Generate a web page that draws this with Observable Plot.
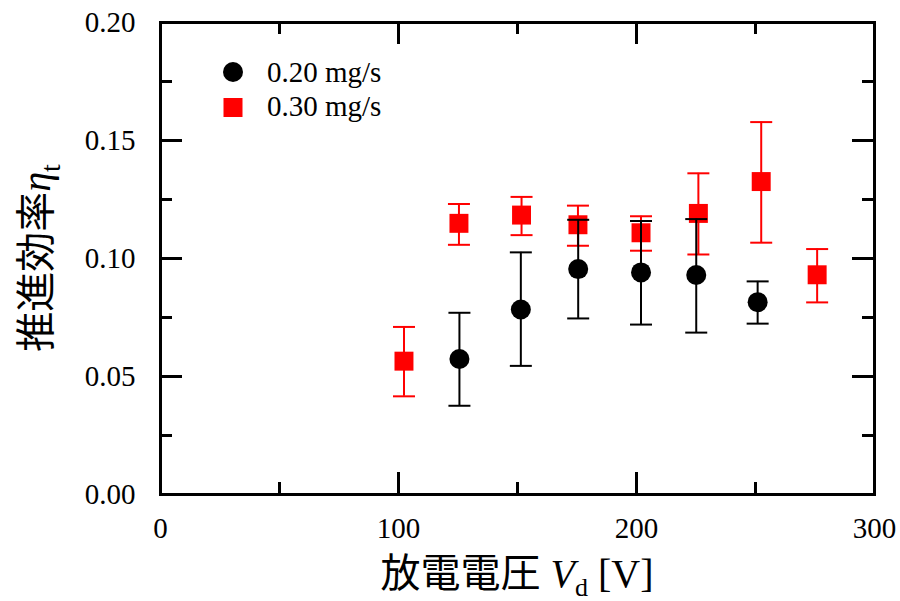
<!DOCTYPE html>
<html><head><meta charset="utf-8">
<script src="https://cdn.jsdelivr.net/npm/d3@7"></script>
<script src="https://cdn.jsdelivr.net/npm/@observablehq/plot@0.6"></script>
<style>body{margin:0;background:#fff}</style>
</head><body><div id="chart"></div>
<script>
// Series labels
const seriesNames = ["0.20 mg/s", "0.30 mg/s"];
// 0.20 mg/s (black circles)
const vd020  = [125.6, 151.4, 175.5, 201.9, 225.1, 250.9];
const eta020 = [0.0574, 0.0784, 0.0955, 0.0941, 0.0930, 0.0815];
const hi020  = [0.0770, 0.1026, 0.1164, 0.1159, 0.1167, 0.0903];
const lo020  = [0.0376, 0.0545, 0.0746, 0.0720, 0.0686, 0.0724];
// 0.30 mg/s (red squares)
const vd030  = [102.3, 125.4, 151.7, 175.4, 201.9, 226.0, 252.4, 275.9];
const eta030 = [0.0565, 0.1149, 0.1184, 0.1143, 0.1109, 0.1191, 0.1326, 0.0931];
const hi030  = [0.0710, 0.1231, 0.1261, 0.1224, 0.1179, 0.1361, 0.1578, 0.1040];
const lo030  = [0.0416, 0.1058, 0.1099, 0.1054, 0.1033, 0.1017, 0.1067, 0.0814];
// Ticks
const xTickLabels = [0, 100, 200, 300];
const xMajor = [100, 200];
const xMinor = [50, 150, 250];
const yTickLabels = [0, 0.05, 0.10, 0.15, 0.20];
const yMajor = [0.05, 0.10, 0.15];
const yMinor = [0.025, 0.075, 0.125, 0.175];

const d020 = vd020.map((v, i) => ({vd: v, eta: eta020[i], hi: hi020[i], lo: lo020[i]}));
const d030 = vd030.map((v, i) => ({vd: v, eta: eta030[i], hi: hi030[i], lo: lo030[i]}));

const W = 900, H = 601;
const mL = 160, mR = 26, mT = 22, mB = 107;
const fw = W - mL - mR, fh = H - mT - mB;
const majLen = 22, minLen = 12;
const serif = "'Liberation Serif', 'Times New Roman', serif";
const cjk = "'Noto Sans CJK JP', sans-serif";

const cap = {draw(ctx, size) { const r = Math.sqrt(size / Math.PI); ctx.moveTo(-r, 0); ctx.lineTo(r, 0); }};

function errMarks(data, color) {
  return [
    Plot.ruleX(data, {x: "vd", y1: "lo", y2: "hi", stroke: color, strokeWidth: 2}),
    Plot.dot(data, {x: "vd", y: "hi", symbol: cap, r: 11, stroke: color, fill: "none", strokeWidth: 2}),
    Plot.dot(data, {x: "vd", y: "lo", symbol: cap, r: 11, stroke: color, fill: "none", strokeWidth: 2})
  ];
}

const svg = Plot.plot({
  width: W, height: H,
  marginLeft: mL, marginRight: mR, marginTop: mT, marginBottom: mB,
  x: {domain: [0, 300]},
  y: {domain: [0, 0.2]},
  style: {fontFamily: serif, fontSize: "29px", background: "#fff", color: "#000"},
  marks: [
    Plot.axisX({ticks: xTickLabels, tickSize: 0, tickPadding: 23, tickFormat: d => String(d), fontSize: 29, fontFamily: serif, label: null}),
    Plot.axisY({ticks: yTickLabels, tickSize: 0, tickPadding: 25, tickFormat: d3.format(".2f"), fontSize: 29, fontFamily: serif, label: null}),
    // inward ticks: bottom / top
    Plot.ruleX(xMajor, {insetTop: fh - majLen, stroke: "#000", strokeWidth: 3}),
    Plot.ruleX(xMinor, {insetTop: fh - minLen, stroke: "#000", strokeWidth: 3}),
    Plot.ruleX(xMajor, {insetBottom: fh - majLen, stroke: "#000", strokeWidth: 3}),
    Plot.ruleX(xMinor, {insetBottom: fh - minLen, stroke: "#000", strokeWidth: 3}),
    // inward ticks: left / right
    Plot.ruleY(yMajor, {insetRight: fw - majLen, stroke: "#000", strokeWidth: 3}),
    Plot.ruleY(yMinor, {insetRight: fw - minLen, stroke: "#000", strokeWidth: 3}),
    Plot.ruleY(yMajor, {insetLeft: fw - majLen, stroke: "#000", strokeWidth: 3}),
    Plot.ruleY(yMinor, {insetLeft: fw - minLen, stroke: "#000", strokeWidth: 3}),
    // 0.30 mg/s
    ...errMarks(d030, "#ff0000"),
    Plot.dot(d030, {x: "vd", y: "eta", symbol: "square", r: 10.7, fill: "#ff0000"}),
    // 0.20 mg/s
    ...errMarks(d020, "#000"),
    Plot.dot(d020, {x: "vd", y: "eta", symbol: "circle", r: 10, fill: "#000"}),
    Plot.frame({stroke: "#000", strokeWidth: 3})
  ]
});
document.getElementById("chart").appendChild(svg);

const s = d3.select(svg);
s.selectAll("text").style("font-family", serif).attr("font-family", serif).attr("fill", "#000");
// X axis label
const xl = s.append("text").attr("x", mL + fw / 2).attr("y", 587).attr("text-anchor", "middle").style("font-size", "40px").attr("fill", "#000");
xl.append("tspan").style("font-family", cjk).text("放電電圧");
xl.append("tspan").style("font-family", serif).style("font-style", "italic").text(" V");
xl.append("tspan").style("font-family", serif).style("font-size", "26px").attr("dy", 9).text("d");
xl.append("tspan").style("font-family", serif).attr("dy", -9).text(" [V]");
// Y axis label
const yl = s.append("text").attr("transform", `translate(50,${mT + fh / 2}) rotate(-90)`).attr("text-anchor", "middle").style("font-size", "40px").attr("fill", "#000");
yl.append("tspan").style("font-family", cjk).text("推進効率");
yl.append("tspan").style("font-family", serif).style("font-style", "italic").text("η");
yl.append("tspan").style("font-family", serif).style("font-size", "28px").attr("dy", 10).text("t");
// Legend
const lg = s.append("g").style("font-family", serif).style("font-size", "29px").attr("text-anchor", "start");
lg.append("circle").attr("cx", 233).attr("cy", 72).attr("r", 10).attr("fill", "#000");
lg.append("rect").attr("x", 223.5).attr("y", 98).attr("width", 19).attr("height", 19).attr("fill", "#ff0000");
lg.append("text").attr("x", 267).attr("y", 82).attr("text-anchor", "start").text(seriesNames[0]);
lg.append("text").attr("x", 267).attr("y", 116).attr("text-anchor", "start").text(seriesNames[1]);
</script></body></html>
